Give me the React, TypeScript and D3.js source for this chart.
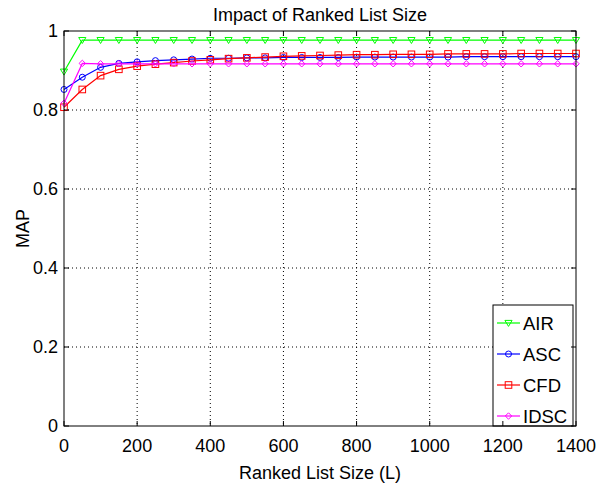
import React from "react";
import * as d3 from "d3";

const listSizes = [0, 50, 100, 150, 200, 250, 300, 350, 400, 450, 500, 550, 600, 650, 700, 750, 800, 850, 900, 950, 1000, 1050, 1100, 1150, 1200, 1250, 1300, 1350, 1400];
const airValues = [0.897, 0.977, 0.977, 0.977, 0.977, 0.977, 0.977, 0.977, 0.977, 0.977, 0.977, 0.977, 0.977, 0.977, 0.977, 0.977, 0.977, 0.977, 0.977, 0.977, 0.977, 0.977, 0.977, 0.977, 0.977, 0.977, 0.977, 0.977, 0.977];
const ascValues = [0.852, 0.883, 0.908, 0.918, 0.922, 0.925, 0.927, 0.929, 0.931, 0.931, 0.932, 0.932, 0.933, 0.933, 0.933, 0.933, 0.934, 0.934, 0.934, 0.934, 0.934, 0.934, 0.935, 0.935, 0.935, 0.935, 0.935, 0.935, 0.935];
const cfdValues = [0.807, 0.852, 0.887, 0.903, 0.911, 0.916, 0.920, 0.924, 0.927, 0.930, 0.932, 0.934, 0.936, 0.937, 0.938, 0.939, 0.940, 0.940, 0.941, 0.941, 0.941, 0.942, 0.942, 0.942, 0.942, 0.943, 0.943, 0.943, 0.943];
const idscValues = [0.817, 0.918, 0.917, 0.917, 0.917, 0.917, 0.917, 0.917, 0.917, 0.917, 0.917, 0.917, 0.917, 0.917, 0.917, 0.917, 0.917, 0.917, 0.917, 0.917, 0.917, 0.917, 0.917, 0.917, 0.917, 0.917, 0.917, 0.917, 0.917];
const seriesNames = ["AIR", "ASC", "CFD", "IDSC"];
const seriesColors = ["#00ff00", "#0000ff", "#ff0000", "#ff00ff"];
const seriesMarkers = ["triangleDown", "circle", "square", "diamond"];
const xTicks = [0, 200, 400, 600, 800, 1000, 1200, 1400];
const yTicks = [0, 0.2, 0.4, 0.6, 0.8, 1];
const yTickLabels = ["0", "0.2", "0.4", "0.6", "0.8", "1"];
const titleText = "Impact of Ranked List Size";
const xLabelText = "Ranked List Size (L)";
const yLabelText = "MAP";

const W = 608;
const H = 489;
const L = 64;
const R = 576;
const T = 31;
const B = 426;
const FONT = "'Liberation Sans', Arial, Helvetica, sans-serif";

function Marker({ kind, x, y, color }: { kind: string; x: number; y: number; color: string }) {
  const s = 3.3;
  if (kind === "circle") return <circle cx={x} cy={y} r={3} fill="none" stroke={color} strokeWidth={1} />;
  if (kind === "square") return <rect x={x - s} y={y - s} width={2 * s} height={2 * s} fill="none" stroke={color} strokeWidth={1} />;
  if (kind === "diamond")
    return <path d={`M${x},${y - 3.2}L${x + 3.2},${y}L${x},${y + 3.2}L${x - 3.2},${y}Z`} fill="none" stroke={color} strokeWidth={1} />;
  return <path d={`M${x - 3.6},${y - 2.6}L${x + 3.6},${y - 2.6}L${x},${y + 3.4}Z`} fill="none" stroke={color} strokeWidth={1} />;
}

export default function App() {
  const x = d3.scaleLinear().domain([0, 1400]).range([L, R]);
  const y = d3.scaleLinear().domain([0, 1]).range([B, T]);
  const allSeries = [airValues, ascValues, cfdValues, idscValues];
  const line = d3
    .line<[number, number]>()
    .x((d) => x(d[0]))
    .y((d) => y(d[1]));

  const legX = 493;
  const legY = 305;
  const legW = 80;
  const legH = B - legY;
  const rowH = 31;

  return (
    <svg width={W} height={H} style={{ position: "absolute", left: 0, top: 0, background: "#fff" }} fontFamily={FONT}>
      <rect x={0} y={0} width={W} height={H} fill="#fff" />
      <rect x={L} y={T} width={R - L} height={B - T} fill="#fff" />
      {/* grid */}
      {xTicks.slice(1, -1).map((t) => (
        <line key={"gx" + t} x1={x(t)} x2={x(t)} y1={T} y2={B} stroke="#000" strokeWidth={1} strokeDasharray="1,3" />
      ))}
      {yTicks.slice(1, -1).map((t) => (
        <line key={"gy" + t} x1={L} x2={R} y1={y(t)} y2={y(t)} stroke="#000" strokeWidth={1} strokeDasharray="1,3" />
      ))}
      {/* series */}
      {allSeries.map((vals, i) => {
        const pts: [number, number][] = listSizes.map((s, j) => [s, vals[j]]);
        return (
          <g key={seriesNames[i]}>
            <path d={line(pts) || ""} fill="none" stroke={seriesColors[i]} strokeWidth={1.2} />
            {pts.map((p, j) => (
              <Marker key={j} kind={seriesMarkers[i]} x={x(p[0])} y={y(p[1])} color={seriesColors[i]} />
            ))}
          </g>
        );
      })}
      {/* legend */}
      <rect x={legX} y={legY} width={legW} height={legH} fill="#fff" stroke="#000" strokeWidth={1} />
      {seriesNames.map((n, i) => {
        const cy = legY + 18 + i * rowH;
        return (
          <g key={"leg" + n}>
            <line x1={legX + 4} x2={legX + 27} y1={cy} y2={cy} stroke={seriesColors[i]} strokeWidth={1.2} />
            <Marker kind={seriesMarkers[i]} x={legX + 15.5} y={cy} color={seriesColors[i]} />
            <text x={legX + 30} y={cy + 6.5} fontSize={18.5} fill="#000">
              {n}
            </text>
          </g>
        );
      })}
      {/* axes box */}
      <rect x={L} y={T} width={R - L} height={B - T} fill="none" stroke="#000" strokeWidth={1} />
      {xTicks.map((t) => (
        <g key={"tx" + t}>
          <line x1={x(t)} x2={x(t)} y1={B} y2={B - 5} stroke="#000" />
          <line x1={x(t)} x2={x(t)} y1={T} y2={T + 5} stroke="#000" />
          <text x={x(t)} y={451.5} textAnchor="middle" fontSize={18} fill="#000">
            {t}
          </text>
        </g>
      ))}
      {yTicks.map((t, i) => (
        <g key={"ty" + t}>
          <line x1={L} x2={L + 5} y1={y(t)} y2={y(t)} stroke="#000" />
          <line x1={R} x2={R - 5} y1={y(t)} y2={y(t)} stroke="#000" />
          <text x={58} y={y(t) + 6.3} textAnchor="end" fontSize={18} fill="#000">
            {yTickLabels[i]}
          </text>
        </g>
      ))}
      <text x={(L + R) / 2} y={20.5} textAnchor="middle" fontSize={18} fill="#000">
        {titleText}
      </text>
      <text x={(L + R) / 2} y={479} textAnchor="middle" fontSize={18} fill="#000">
        {xLabelText}
      </text>
      <text
        transform={`translate(29,${(T + B) / 2}) rotate(-90)`}
        textAnchor="middle"
        fontSize={18}
        fill="#000"
      >
        {yLabelText}
      </text>
    </svg>
  );
}
